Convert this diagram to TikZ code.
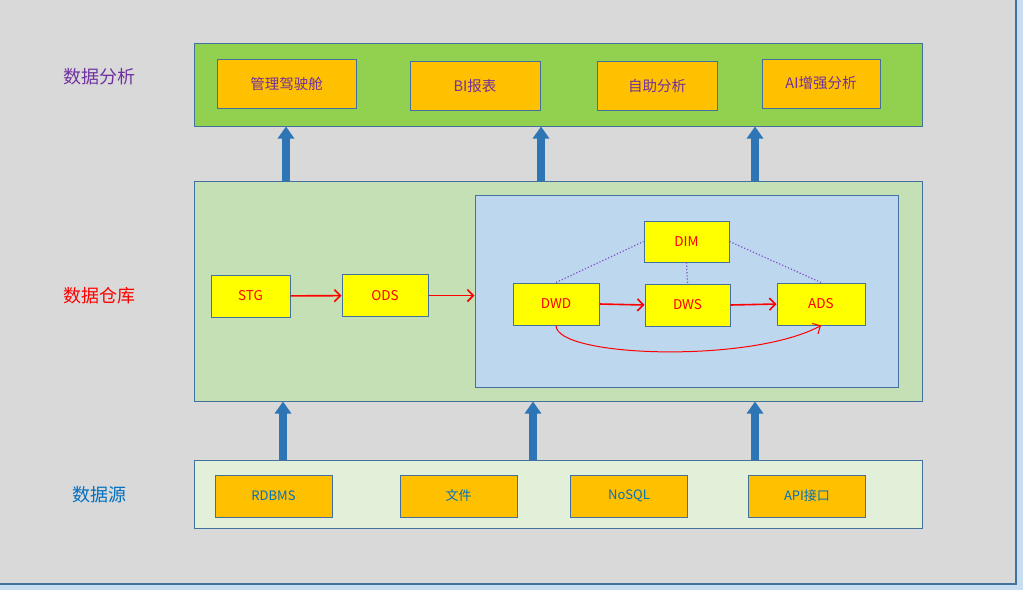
\documentclass[tikz,border=0pt]{standalone}
\usepackage{fontspec}
\setmainfont{Noto Sans CJK SC}
\usepackage{tikz}
\usetikzlibrary{arrows.meta}

\definecolor{pagebg}{HTML}{D9D9D9}
\definecolor{outerbg}{HTML}{C9DDF1}
\definecolor{edgeblue}{HTML}{41719C}
\definecolor{arrowblue}{HTML}{2E75B6}
\definecolor{anagreen}{HTML}{92D050}
\definecolor{whgreen}{HTML}{C5E0B4}
\definecolor{srcgreen}{HTML}{E2F0D9}
\definecolor{dwblue}{HTML}{BDD7EE}
\definecolor{boxorange}{HTML}{FFC000}
\definecolor{boxyellow}{HTML}{FFFF00}
\definecolor{txtpurple}{HTML}{7030A0}
\definecolor{txtblue}{HTML}{0070C0}
\definecolor{dotpurple}{HTML}{7F4FC8}

\begin{document}
\begin{tikzpicture}[x=1pt,y=-1pt,
  layer/.style={draw=edgeblue,line width=1pt,inner sep=0pt},
  box/.style={draw=edgeblue,line width=1pt,inner sep=0pt,align=center,
    minimum height=42pt,font=\fontsize{13}{15}\selectfont},
  appbox/.style={box,fill=boxorange,text=txtpurple,minimum height=49pt,font=\fontsize{14.5}{17}\selectfont},
  srcbox/.style={box,fill=boxorange,text=txtblue,minimum width=117pt,font=\fontsize{13}{15}\selectfont},
  tblbox/.style={box,fill=boxyellow,text=red,font=\fontsize{13.5}{15}\selectfont},
  tag/.style={font=\fontsize{18}{20}\selectfont},
  bigarrow/.style={arrowblue,line width=8pt,-{Triangle[width=16pt,length=12pt]}},
  redarrow/.style={red,line width=1.6pt,-{Straight Barb[length=6pt,width=12pt]}},
  link/.style={dotpurple,dotted,line width=1.2pt}]
\useasboundingbox (0,0) rectangle (1023,590);
\fill[outerbg] (0,0) rectangle (1023,590);
\draw[fill=pagebg,draw=edgeblue,line width=1.5pt] (-2,-2) rectangle (1016,584);

% layers
\node[layer,fill=anagreen,minimum width=728pt,minimum height=83pt] (ana) at (558,84.5) {};
\node[layer,fill=whgreen,minimum width=728pt,minimum height=220pt] (wh) at (558,291) {};
\node[layer,fill=srcgreen,minimum width=728pt,minimum height=68pt] (src) at (558,494) {};
\node[layer,fill=dwblue,minimum width=423pt,minimum height=192pt] (dw) at (686.5,291) {};

% row labels
\node[tag,text=txtpurple] (tana) at (99,77) {数据分析};
\node[tag,text=red] (twh) at (99,296) {数据仓库};
\node[tag,text=txtblue] (tsrc) at (99,495) {数据源};

% analysis apps
\node[appbox,minimum width=139pt] (cockpit) at (286.5,83.5) {管理驾驶舱};
\node[appbox,minimum width=130pt] (report) at (475,85.5) {BI报表};
\node[appbox,minimum width=120pt] (self) at (657,85.5) {自助分析};
\node[appbox,minimum width=118pt] (aiana) at (821,83.5) {AI增强分析};

% warehouse tables
\node[tblbox,minimum width=79pt] (stg) at (250.5,296) {STG};
\node[tblbox,minimum width=86pt] (ods) at (385,295.5) {ODS};
\node[tblbox,minimum width=85pt,minimum height=41pt] (dim) at (686.5,241.5) {DIM};
\node[tblbox,minimum width=86pt] (dwd) at (556,304) {DWD};
\node[tblbox,minimum width=85pt] (dws) at (687.5,305) {DWS};
\node[tblbox,minimum width=88pt] (ads) at (821,304) {ADS};

% sources
\node[srcbox] (rdbms) at (273.5,496) {RDBMS};
\node[srcbox] (file) at (458.5,496) {文件};
\node[srcbox] (nosql) at (629,496) {NoSQL};
\node[srcbox] (api) at (807,496) {API接口};

% flows inside the warehouse
\draw[redarrow] (stg) -- (ods);
\draw[redarrow] (ods.east) -- (ods.east -| dw.west);
\draw[redarrow] (dwd.east) -- (dws.west);
\draw[redarrow] (dws.east) -- (ads.west);
\draw[redarrow,line width=1pt] (dwd.south) .. controls +(0,32) and +(-70,38) .. (ads.south);
\draw[link] (dwd.north) -- (dim.west);
\draw[link] (dim.south) -- (dws.north);
\draw[link] (dim.east) -- (ads.north);

% layer to layer
\foreach \x in {286,541,755}
  \draw[bigarrow] (wh.north -| \x,0) -- (ana.south -| \x,0);
\foreach \x in {283,533,755}
  \draw[bigarrow] (src.north -| \x,0) -- (wh.south -| \x,0);
\end{tikzpicture}
\end{document}
